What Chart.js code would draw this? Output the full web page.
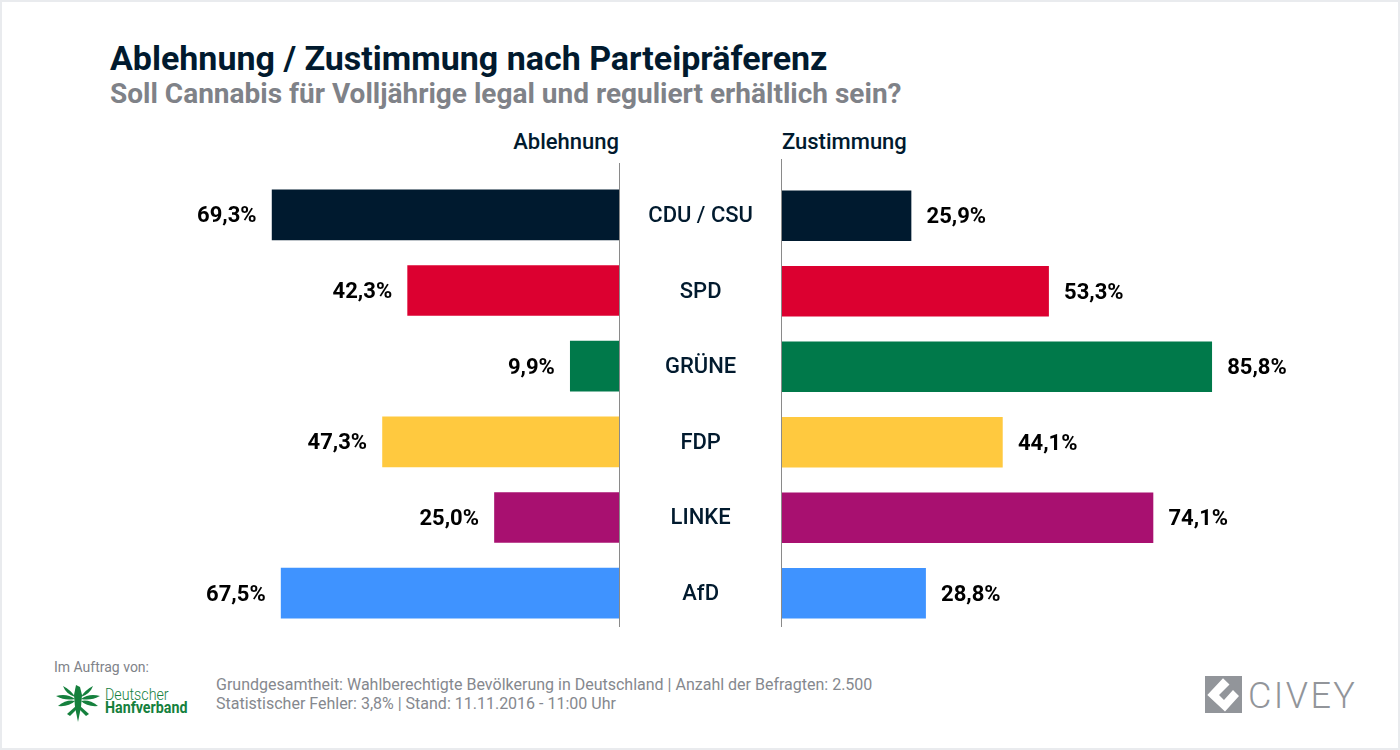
<!DOCTYPE html>
<html lang="de">
<head>
<meta charset="utf-8">
<title>Ablehnung / Zustimmung nach Parteipräferenz</title>
<script src="https://cdn.jsdelivr.net/npm/chart.js@4"></script>
<style>
  html, body { margin: 0; padding: 0; background: #fff; }
  body { width: 1400px; height: 750px; position: relative; overflow: hidden; font-family: Roboto, sans-serif; }
  #frame { position: absolute; inset: 0; border: 2px solid #e9ebee; box-sizing: border-box; }
  .txt { position: absolute; white-space: nowrap; line-height: 1; }
  #title { left: 110px; top: 41px; font-size: 34px; font-weight: 700; color: #011a2e; }
  #subtitle { left: 110px; top: 80px; font-size: 28px; font-weight: 700; color: #7f8288; }
  .head { top: 131px; font-size: 22px; font-weight: 500; color: #011a2e; }
  #headLeft { right: 781px; }
  #headRight { left: 782px; }
  canvas { position: absolute; top: 150px; }
  #leftChart { left: 118px; }
  #rightChart { left: 620px; }
  #auftrag { left: 54px; top: 660px; font-size: 14px; color: #808389; }
  .foot { left: 216px; font-size: 16px; color: #85888e; }
  #foot1 { top: 677px; }
  #foot2 { top: 696px; }
  .hanf { left: 105px; font-size: 16px; color: #15803d; transform: scaleX(0.89); transform-origin: left; }
  #hanf1 { top: 687px; font-weight: 300; }
  #hanf2 { top: 700px; font-weight: 700; }
  #civey { left: 1248px; top: 678px; font-size: 36px; font-weight: 300; letter-spacing: 2.4px; color: #92959a; }
  svg { position: absolute; }
</style>
</head>
<body>
<div id="frame"></div>
<div class="txt" id="title">Ablehnung / Zustimmung nach Parteipräferenz</div>
<div class="txt" id="subtitle">Soll Cannabis für Volljährige legal und reguliert erhältlich sein?</div>
<div class="txt head" id="headLeft">Ablehnung</div>
<div class="txt head" id="headRight">Zustimmung</div>
<canvas id="leftChart" width="502" height="490"></canvas>
<canvas id="rightChart" width="693" height="490"></canvas>
<div class="txt" id="auftrag">Im Auftrag von:</div>
<svg style="left:55px;top:683px" width="46" height="40" viewBox="0 0 46 40">
  <g fill="#15803d">
    <path d="M21 2 L25 4 L27 12 L26 24 L23 39 L20 24 L19 12 Z"/>
    <path d="M1 13 Q12 10 20 16 Q10 18 1 13 Z"/>
    <path d="M45 13 Q34 10 26 16 Q36 18 45 13 Z"/>
    <path d="M8 3 Q16 7 20 14 Q11 11 8 3 Z"/>
    <path d="M38 3 Q30 7 26 14 Q35 11 38 3 Z"/>
    <path d="M3 23 Q12 16 20 18 Q14 24 3 23 Z"/>
    <path d="M43 23 Q34 16 26 18 Q32 24 43 23 Z"/>
    <path d="M12 31 L21 23 L21 27 L15 33 Z"/>
    <path d="M34 31 L25 23 L25 27 L31 33 Z"/>
  </g>
</svg>
<div class="txt hanf" id="hanf1">Deutscher</div>
<div class="txt hanf" id="hanf2">Hanfverband</div>
<div class="txt foot" id="foot1">Grundgesamtheit: Wahlberechtigte Bevölkerung in Deutschland | Anzahl der Befragten: 2.500</div>
<div class="txt foot" id="foot2">Statistischer Fehler: 3,8% | Stand: 11.11.2016 - 11:00 Uhr</div>
<svg style="left:1205px;top:676px" width="37" height="37" viewBox="0 0 37 37">
  <rect width="37" height="37" fill="#92959a"/>
  <path d="M2.3 19 L18 2.3 L24.5 8.5 L14 19 L19 24 L28 14 L34 20 L20 35.5 Z" fill="#fff"/>
</svg>
<div class="txt" id="civey">CIVEY</div>
<script>
const parties = ['CDU / CSU', 'SPD', 'GRÜNE', 'FDP', 'LINKE', 'AfD'];
const ablehnung = [69.3, 42.3, 9.9, 47.3, 25.0, 67.5];
const zustimmung = [25.9, 53.3, 85.8, 44.1, 74.1, 28.8];
const barColors = ['#001a2f', '#dc0030', '#00794a', '#ffc93f', '#a81070', '#3f93ff'];

const navy = '#011a2e';

// value labels next to the bars, plus the vertical rule at zero
const barExtras = {
  id: 'barExtras',
  afterDatasetsDraw(chart, args, opts) {
    const ctx = chart.ctx;
    const x0 = Math.round(chart.scales.x.getPixelForValue(0)) + opts.ruleShift;
    ctx.save();
    ctx.strokeStyle = '#8a8a8a';
    ctx.lineWidth = 1;
    ctx.beginPath();
    ctx.moveTo(x0, opts.ruleTop);
    ctx.lineTo(x0, 477);
    ctx.stroke();

    ctx.font = '700 22px Roboto';
    ctx.fillStyle = '#000';
    ctx.textBaseline = 'middle';
    ctx.textAlign = opts.side === 'left' ? 'right' : 'left';
    const values = chart.data.datasets[0].data;
    chart.getDatasetMeta(0).data.forEach((bar, i) => {
      const label = values[i].toFixed(1).replace('.', ',') + '%';
      const x = opts.side === 'left' ? bar.x - 15.5 : bar.x + 15.5;
      ctx.fillText(label, x, bar.y + 2);
    });
    ctx.restore();
  }
};

new Chart(document.getElementById('leftChart').getContext('2d'), {
  type: 'bar',
  data: {
    labels: parties,
    datasets: [{ data: ablehnung, backgroundColor: barColors, barThickness: 50 }]
  },
  plugins: [barExtras],
  options: {
    indexAxis: 'y',
    responsive: false,
    animation: false,
    devicePixelRatio: 1,
    layout: { padding: { top: 27, bottom: 9 } },
    plugins: {
      legend: { display: false },
      tooltip: { enabled: false },
      barExtras: { side: 'left', ruleTop: 13, ruleShift: -0.5 }
    },
    scales: {
      x: { display: false, reverse: true, min: 0, max: 100 },
      y: { display: false }
    }
  }
});

new Chart(document.getElementById('rightChart').getContext('2d'), {
  type: 'bar',
  data: {
    labels: parties,
    datasets: [{ data: zustimmung, backgroundColor: barColors, barThickness: 50 }]
  },
  plugins: [barExtras],
  options: {
    indexAxis: 'y',
    responsive: false,
    animation: false,
    devicePixelRatio: 1,
    layout: { padding: { top: 28, bottom: 9, right: 30 } },
    plugins: {
      legend: { display: false },
      tooltip: { enabled: false },
      barExtras: { side: 'right', ruleTop: 9, ruleShift: 0.5 }
    },
    scales: {
      x: { display: false, min: 0, max: 100 },
      y: {
        // fixed gutter between the two panels, no extra label overhang
        afterFit(axis) {
          axis.width = 161;
          axis.paddingTop = 0;
          axis.paddingBottom = 0;
        },
        border: { display: false },
        grid: { display: false, drawTicks: false },
        ticks: {
          crossAlign: 'center',
          color: navy,
          padding: 28,
          labelOffset: 1,
          font: { family: 'Roboto', size: 22, weight: '500' }
        }
      }
    }
  }
});
</script>
</body>
</html>
